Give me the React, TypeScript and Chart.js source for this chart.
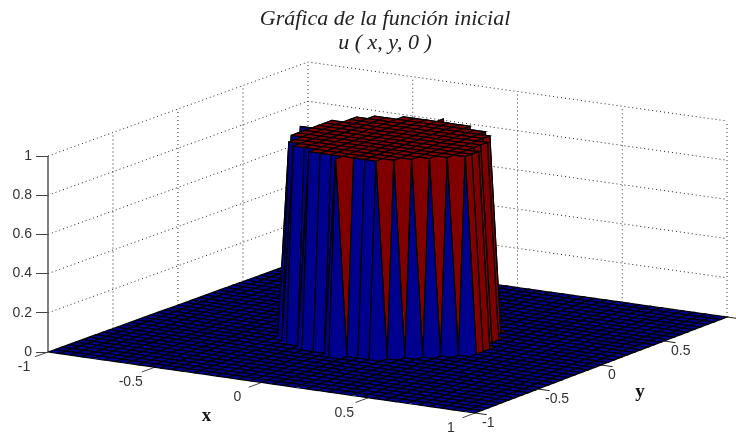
import React, { useEffect, useRef } from "react";
import { Chart, registerables } from "chart.js";

Chart.register(...registerables);

const titleLines = ["Gráfica de la función inicial", "u ( x, y, 0 )"];
const xTicks = [-1, -0.5, 0, 0.5, 1];
const yTicks = [-1, -0.5, 0, 0.5, 1];
const yTickLabels = [-1, -0.5, 0, 0.5];
const zTicks = [0, 0.2, 0.4, 0.6, 0.8, 1];
const gridCoords = [
  -1, -0.947, -0.895, -0.842, -0.789, -0.737, -0.684, -0.632, -0.579, -0.526, -0.474, -0.421, -0.368,
  -0.316, -0.263, -0.211, -0.158, -0.105, -0.053, 0, 0.053, 0.105, 0.158, 0.211, 0.263, 0.316, 0.368,
  0.421, 0.474, 0.526, 0.579, 0.632, 0.684, 0.737, 0.789, 0.842, 0.895, 0.947, 1,
];
// For each grid row along y: how many cells left and right of x = 0 sit on the plateau (-1: none).
const plateauCellsLeft = [
  -1, -1, -1, -1, -1, -1, -1, -1, -1, -1, -1,
  0, 3, 5, 6, 6, 7, 7, 7, 8, 7, 7, 7, 6, 6, 5, 3, 0,
  -1, -1, -1, -1, -1, -1, -1, -1, -1, -1, -1,
];
const plateauCellsRight = [
  -1, -1, -1, -1, -1, -1, -1, -1, -1, -1, -1,
  0, 3, 4, 5, 6, 7, 8, 8, 8, 7, 7, 7, 6, 6, 5, 3, 0,
  -1, -1, -1, -1, -1, -1, -1, -1, -1, -1, -1,
];

const BLUE = "#00008f";
const RED = "#800000";
const TEXT = "#333333";

// View of the 3-D box on the canvas (corners of the z = 0 floor, and height of z = 1).
const CORNER_A = [48, 352];
const CORNER_B = [475, 413];
const CORNER_C = [727, 317];
const CORNER_D = [308, 258];
const Z_HEIGHT = 196;
const AREA_TOP = 100;
const AREA_BOTTOM = 434;
const MIDDLE_NODE = 19;

function project(x: number, y: number, z: number) {
  const u = (x + 1) / 2;
  const v = (y + 1) / 2;
  const w = (k: number) =>
    (1 - u) * (1 - v) * CORNER_A[k] + u * (1 - v) * CORNER_B[k] + u * v * CORNER_C[k] + (1 - u) * v * CORNER_D[k];
  // horizontal value in canvas units, vertical value on the z scale
  return { x: w(0), y: (CORNER_A[1] - w(1)) / Z_HEIGHT + z };
}

function height(i: number, j: number) {
  const left = plateauCellsLeft[j];
  const right = plateauCellsRight[j];
  if (left < 0) return 0;
  const d = i - MIDDLE_NODE;
  return d >= -left && d <= right ? 1 : 0;
}

function line(points: { x: number; y: number }[], color: string, width: number, dash: number[] = []) {
  return {
    data: points,
    borderColor: color,
    borderWidth: width,
    borderDash: dash,
    pointRadius: 0,
    showLine: true,
    fill: false,
    clip: false,
  };
}

function buildDatasets() {
  const drawn: any[] = [];
  const dots = [1, 3];
  // walls
  zTicks.slice(1).forEach((z) => {
    drawn.push(line([project(-1, -1, z), project(-1, 1, z), project(1, 1, z)], "#222222", 1, dots));
  });
  yTicks.slice(1).forEach((y) => {
    drawn.push(line([project(-1, y, 0), project(-1, y, 1)], "#222222", 1, dots));
  });
  xTicks.slice(1).forEach((x) => {
    drawn.push(line([project(x, 1, 0), project(x, 1, 1)], "#333333", 1, dots));
  });
  // axis and tick marks
  drawn.push(line([project(-1, -1, 0), project(-1, -1, 1)], "#555555", 1.5));
  xTicks.forEach((x) => drawn.push(line([project(x, -1, 0), project(x, -1.1, 0)], "#444444", 1)));
  yTicks.forEach((y) => drawn.push(line([project(1, y, 0), project(1.055, y, 0)], "#222222", 1)));
  // surface, from the far corner to the near one
  for (let i = 0; i < gridCoords.length - 1; i++) {
    for (let j = gridCoords.length - 2; j >= 0; j--) {
      const x0 = gridCoords[i];
      const x1 = gridCoords[i + 1];
      const y0 = gridCoords[j];
      const y1 = gridCoords[j + 1];
      const p0 = project(x0, y0, height(i, j));
      const p1 = project(x1, y0, height(i + 1, j));
      const p2 = project(x1, y1, height(i + 1, j + 1));
      const p3 = project(x0, y1, height(i, j + 1));
      drawn.push({
        data: [p0, p1, p2, p3, p0],
        borderColor: "#000000",
        borderWidth: 1.2,
        backgroundColor: height(i, j) ? RED : BLUE,
        fill: "shape",
        pointRadius: 0,
        showLine: true,
        clip: false,
      });
    }
  }
  // Chart.js paints the first dataset last
  return drawn.reverse();
}

const slantedLabels = {
  id: "slantedLabels",
  afterLayout(chart: any) {
    // let the z tick labels use the room left of the plot
    chart.scales.y.left = 0;
  },
  afterDraw(chart: any) {
    const { ctx, scales } = chart;
    const put = (text: string, x: number, y: number, dx: number, dy: number) => {
      const p = project(x, y, 0);
      ctx.fillText(text, scales.x.getPixelForValue(p.x) + dx, scales.y.getPixelForValue(p.y) + dy);
    };
    ctx.save();
    ctx.textBaseline = "middle";
    ctx.fillStyle = TEXT;
    ctx.font = "14px 'Liberation Sans'";
    ctx.textAlign = "center";
    xTicks.forEach((x) => put(String(x), x, -1, -24, 15));
    ctx.textAlign = "left";
    yTickLabels.forEach((y) => put(String(y), 1, y, 7, 10));
    ctx.textAlign = "center";
    ctx.fillStyle = "#111111";
    ctx.font = "bold 19px 'Liberation Serif'";
    put("x", 0, -1, -55, 34);
    put("y", 1, 0, 39, 27);
    ctx.restore();
  },
};

export default function App() {
  const ref = useRef<HTMLCanvasElement>(null);
  useEffect(() => {
    const chart = new Chart(ref.current as HTMLCanvasElement, {
      type: "scatter",
      data: { datasets: buildDatasets() },
      plugins: [slantedLabels],
      options: {
        animation: false,
        responsive: false,
        events: [],
        layout: { autoPadding: false, padding: { left: 34, right: 0, top: 0, bottom: 0 } },
        plugins: {
          legend: { display: false },
          tooltip: { enabled: false },
          title: {
            display: true,
            text: titleLines,
            color: "#222222",
            font: { family: "'Liberation Serif'", style: "italic", weight: "normal", size: 22, lineHeight: 24 / 22 },
            padding: { top: 7, bottom: 45 },
          },
        },
        scales: {
          x: { type: "linear", display: false, min: 48, max: 736 },
          y: {
            type: "linear",
            position: "left",
            min: (CORNER_A[1] - AREA_BOTTOM) / Z_HEIGHT,
            max: (CORNER_A[1] - AREA_TOP) / Z_HEIGHT,
            afterFit: (s: any) => {
              s.width = 14;
              s.paddingTop = 0;
              s.paddingBottom = 0;
            },
            afterBuildTicks: (s: any) => {
              s.ticks = zTicks.map((value) => ({ value }));
            },
            grid: { drawOnChartArea: false, drawTicks: true, tickLength: 12, color: "#444444" },
            border: { display: false },
            ticks: {
              padding: 4,
              color: TEXT,
              font: { family: "'Liberation Sans'", size: 14 },
              callback: (v: any) => String(v),
            },
          },
        },
      },
    } as any);
    return () => chart.destroy();
  }, []);
  return (
    <div style={{ position: "absolute", left: 0, top: 0, width: 736, height: 434 }}>
      <canvas ref={ref} width={736} height={434} style={{ display: "block" }} />
    </div>
  );
}
